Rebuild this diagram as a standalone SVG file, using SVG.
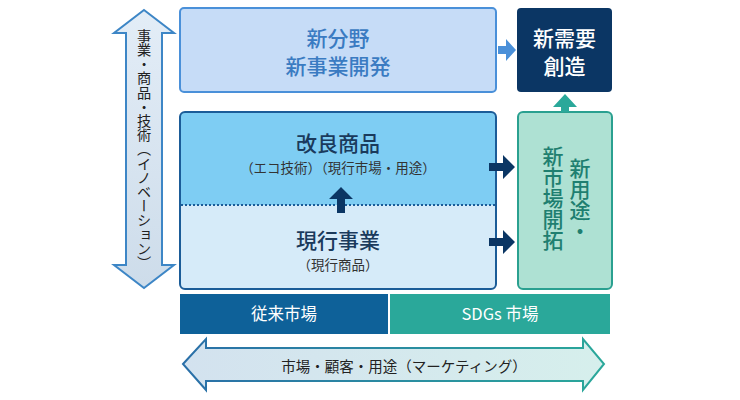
<svg xmlns="http://www.w3.org/2000/svg" width="740" height="400" viewBox="0 0 740 400">
<defs>
<style>
text{font-family:"Noto Sans CJK JP","Noto Sans",sans-serif;}
.t20{font-size:21px;font-weight:500;text-anchor:middle;}
.t14{font-size:13.5px;text-anchor:middle;fill:#333;}
.vert{writing-mode:vertical-rl;}
</style>
<linearGradient id="hg" x1="0" y1="0" x2="1" y2="0">
<stop offset="0" stop-color="#d3e2ef"/><stop offset="1" stop-color="#d6efec"/>
</linearGradient>
<linearGradient id="hs" x1="0" y1="0" x2="1" y2="0">
<stop offset="0" stop-color="#2a6fa8"/><stop offset="1" stop-color="#2aa89a"/>
</linearGradient>
<linearGradient id="vg" x1="0" y1="0" x2="0" y2="1">
<stop offset="0" stop-color="#e3edf7"/><stop offset="1" stop-color="#cddcea"/>
</linearGradient>
</defs>

<g id="innovation-axis">
<path d="M144,10 L174,33 L162,33 L162,265 L174,265 L144,288 L114,265 L126,265 L126,33 L114,33 Z" fill="url(#vg)" stroke="#3d86c6" stroke-width="2" stroke-linejoin="miter"/>
<text class="vert" x="144" y="149" font-size="14.2" text-anchor="middle" fill="#222">事業・商品・技術（イノベーション）</text>
</g>

<g id="new-field">
<rect x="180" y="8" width="316" height="84" rx="4" fill="#c6dcf7" stroke="#4a90d9" stroke-width="2"/>
<text class="t20" x="338" y="46" fill="#3a7bc2">新分野</text>
<text class="t20" x="338" y="74" fill="#3a7bc2">新事業開発</text>
</g>

<g id="new-demand">
<rect x="517" y="8" width="95" height="84" rx="4" fill="#0b3664"/>
<text class="t20" x="564.5" y="46" fill="#fff">新需要</text>
<text class="t20" x="564.5" y="74" fill="#fff">創造</text>
</g>

<g id="current">
<rect x="180" y="112" width="316" height="177" rx="5" fill="#d6ebf9"/>
<path d="M180,205 L180,117 Q180,112 185,112 L491,112 Q496,112 496,117 L496,205 Z" fill="#7ecdf3"/>
<rect x="180" y="112" width="316" height="177" rx="5" fill="none" stroke="#1b5c98" stroke-width="2"/>
<line x1="181" y1="205" x2="495" y2="205" stroke="#1b5c98" stroke-width="2" stroke-dasharray="2,2"/>
<text class="t20" x="338" y="151" fill="#1a3a5c">改良商品</text>
<text class="t14" x="338" y="173">（エコ技術）（現行市場・用途）</text>
<text class="t20" x="338" y="248" fill="#1a3a5c">現行事業</text>
<text class="t14" x="338" y="270">（現行商品）</text>
</g>

<g id="new-market">
<rect x="518" y="112" width="94" height="177" rx="5" fill="#aee1d3" stroke="#2aa090" stroke-width="2"/>
<text class="vert" x="580" y="158" font-size="21" font-weight="500" fill="#1f7f70">新用途・</text>
<text class="vert" x="553" y="146" font-size="21" font-weight="500" fill="#1f7f70">新市場開拓</text>
</g>

<g id="conventional-market">
<rect x="180" y="294" width="208" height="40" fill="#0e6199"/>
<text x="284" y="320" font-size="16.5" text-anchor="middle" fill="#fff">従来市場</text>
</g>

<g id="sdgs-market">
<rect x="390" y="294" width="220" height="40" fill="#2aa89a"/>
<text x="500" y="320" font-size="16.5" text-anchor="middle" fill="#fff">SDGs 市場</text>
</g>

<g id="marketing-axis">
<path d="M183,364 L206,339 L206,348 L583,348 L583,339 L604,364 L583,390 L583,381 L206,381 L206,390 Z" fill="url(#hg)" stroke="url(#hs)" stroke-width="2"/>
<text x="404" y="372" font-size="14.5" text-anchor="middle" fill="#222">市場・顧客・用途（マーケティング）</text>
</g>

<g id="connectors">
<path d="M498,46 L506,46 L506,39 L516,50 L506,61 L506,54 L498,54 Z" fill="#4a90d9"/>
<path d="M489,163 L503,163 L503,155 L515,167 L503,179 L503,171 L489,171 Z" fill="#0b3664"/>
<path d="M489,238 L503,238 L503,230 L515,242 L503,254 L503,246 L489,246 Z" fill="#0b3664"/>
<path d="M337,213 L337,199 L329,199 L341,187 L353,199 L345,199 L345,213 Z" fill="#0b3664"/>
<path d="M561,112 L561,107 L553,107 L565,94 L577,107 L569,107 L569,112 Z" fill="#2aa89a"/>
</g>
</svg>
